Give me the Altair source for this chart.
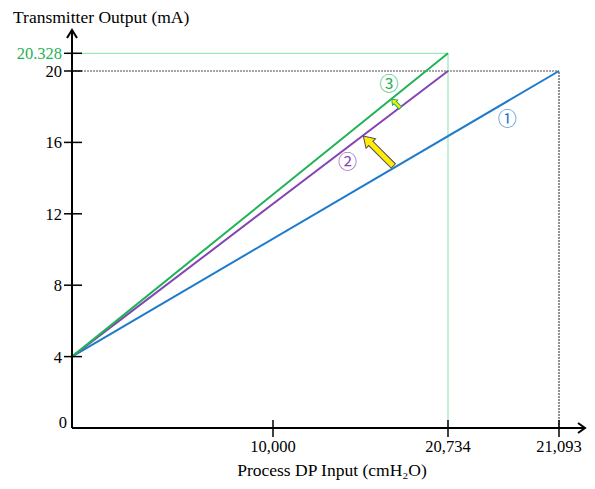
import altair as alt
import pandas as pd

# ---------------- data ----------------
series = ["①", "②", "③"]
x_start = [0, 0, 0]
y_start = [4, 4, 4]
x_end = [21093, 20734, 20734]
y_end = [20, 20, 20.328]
line_colors = ["#1f7bcb", "#8443b5", "#1fb257"]
text_colors = ["#3a8ad6", "#8e52bd", "#2bb562"]

x_ticks = [10000, 20734, 21093]
x_tick_labels = ["10,000", "20,734", "21,093"]
y_ticks = [4, 8, 12, 16, 20, 20.328]
y_tick_labels = ["4", "8", "12", "16", "20", "20.328"]
y_label_colors = ["black", "black", "black", "black", "black", "#1fb257"]
zero_label = ["0"]
x_max = 22200
y_max = 21

x_title = ["Process DP Input (cmH₂O)"]
y_title = ["Transmitter Output (mA)"]

label_x = [20926, 14570, 17115]
label_y = [17.25, 14.87, 19.19]

big_arrow_x = [16459]
big_arrow_y = [15.52]
small_arrow_x = [17545]
small_arrow_y = [18.18]

# schematic (piecewise) scales, as in the reference drawing
x_scale = alt.Scale(domain=[0, 10000, 20734, 21093, x_max],
                    range=[0, 201, 376, 487, 513], nice=False, zero=False)
y_scale = alt.Scale(domain=[0, 20, 20.328, y_max],
                    range=[398, 41, 23.3, 0], nice=False, zero=False)
color_scale = alt.Scale(domain=series, range=line_colors)
text_color_scale = alt.Scale(domain=series, range=text_colors)

FONT = "Liberation Serif"
FS = 16.5
FS_TITLE = 17.5


def X(field):
    return alt.X(field, scale=x_scale, axis=None)


def Y(field):
    return alt.Y(field, scale=y_scale, axis=None)


rows = []
for s, xs, ys, xe, ye in zip(series, x_start, y_start, x_end, y_end):
    rows.append({"series": s, "x": xs, "y": ys, "o": 0})
    rows.append({"series": s, "x": xe, "y": ye, "o": 1})
df_lines = pd.DataFrame(rows)

lines = alt.Chart(df_lines).mark_line(strokeWidth=2).encode(
    x=X("x:Q"), y=Y("y:Q"),
    color=alt.Color("series:N", scale=color_scale, legend=None),
    order="o:Q",
)

# guide lines
df_green = pd.DataFrame({
    "x": [0, x_end[2]], "x2": [x_end[2], x_end[2]],
    "y": [y_end[2], 0], "y2": [y_end[2], y_end[2]],
})
green_guides = alt.Chart(df_green).mark_rule(color="#86e3aa", strokeWidth=1).encode(
    x=X("x:Q"), x2="x2:Q", y=Y("y:Q"), y2="y2:Q",
)
df_grey = pd.DataFrame({"x": [0], "x2": [x_end[0]], "y": [y_end[0]]})
grey_guide = alt.Chart(df_grey).mark_rule(color="#8a8a8a", strokeWidth=1.5,
                                          strokeDash=[2, 1]).encode(
    x=X("x:Q"), x2="x2:Q", y=Y("y:Q"),
)
df_black = pd.DataFrame({"x": [x_end[0]], "y": [0], "y2": [y_end[0]]})
black_guide = alt.Chart(df_black).mark_rule(color="#222222", strokeWidth=1,
                                            strokeDash=[2, 1]).encode(
    x=X("x:Q"), y=Y("y:Q"), y2="y2:Q",
)

# axis lines
df_axes = pd.DataFrame({"x": [0, 0], "x2": [x_max, 0], "y": [0, 0], "y2": [0, y_max]})
axis_lines = alt.Chart(df_axes).mark_rule(color="black", strokeWidth=2).encode(
    x=X("x:Q"), x2="x2:Q", y=Y("y:Q"), y2="y2:Q",
)

# tick marks crossing the axes
ytick_layer = alt.Chart(pd.DataFrame({"v": y_ticks})).mark_rule(
    color="black", strokeWidth=1.5).encode(
    y=Y("v:Q"), x=alt.value(-8), x2=alt.value(10),
)
xtick_layer = alt.Chart(pd.DataFrame({"v": x_ticks})).mark_rule(
    color="black", strokeWidth=1.5).encode(
    x=X("v:Q"), y=alt.value(390), y2=alt.value(407),
)

# tick labels
df_ylab = pd.DataFrame({"v": y_ticks, "t": y_tick_labels, "c": y_label_colors, "x": 0})
ylabels = alt.Chart(df_ylab).mark_text(
    font=FONT, fontSize=FS, align="right", baseline="alphabetic", dx=-10, dy=6).encode(
    x=X("x:Q"), y=Y("v:Q"), text="t:N",
    color=alt.Color("c:N", scale=None, legend=None),
)
df_xlab = pd.DataFrame({"v": x_ticks, "t": x_tick_labels, "y": 0})
xlabels = alt.Chart(df_xlab).mark_text(
    font=FONT, fontSize=FS, align="center", baseline="alphabetic", dy=24,
    color="black").encode(
    x=X("v:Q"), y=Y("y:Q"), text="t:N",
)
zero_layer = alt.Chart(pd.DataFrame({"t": zero_label, "x": [0], "y": [0]})).mark_text(
    font=FONT, fontSize=FS, align="right", baseline="alphabetic", dx=-5, dy=0,
    color="black").encode(
    x=X("x:Q"), y=Y("y:Q"), text="t:N",
)

# axis titles
xt = alt.Chart(pd.DataFrame({"t": x_title})).mark_text(
    font=FONT, fontSize=FS_TITLE, align="center", baseline="alphabetic",
    color="black").encode(
    x=alt.value(260), y=alt.value(446), text="t:N",
)
yt = alt.Chart(pd.DataFrame({"t": y_title})).mark_text(
    font=FONT, fontSize=FS_TITLE, align="left", baseline="alphabetic",
    color="black").encode(
    x=alt.value(-59), y=alt.value(-7), text="t:N",
)

# axis arrow heads
up_arrow = alt.Chart(pd.DataFrame({"x": [0], "y": [y_max]})).mark_point(
    shape="M -0.625 1 L 0 0 L 0.625 1", size=256, filled=False,
    color="black", strokeWidth=2, opacity=1).encode(x=X("x:Q"), y=Y("y:Q"))
right_arrow = alt.Chart(pd.DataFrame({"x": [x_max], "y": [0]})).mark_point(
    shape="M -1 -0.71 L 0 0 L -1 0.71", size=196, filled=False,
    color="black", strokeWidth=2, opacity=1).encode(x=X("x:Q"), y=Y("y:Q"))

# circled labels
df_labels = pd.DataFrame({"series": series, "x": label_x, "y": label_y})
labels = alt.Chart(df_labels).mark_text(fontSize=19, font="Noto Sans CJK JP").encode(
    x=X("x:Q"), y=Y("y:Q"), text="series:N",
    color=alt.Color("series:N", scale=text_color_scale, legend=None),
)

# yellow arrows
ARROW = "M 0 -1 L 0.32 -0.5 L 0.14 -0.5 L 0.14 1 L -0.14 1 L -0.14 -0.5 L -0.32 -0.5 Z"
SMALL = "M 0 -1 L 0.6 -0.2 L 0.27 -0.2 L 0.27 1 L -0.27 1 L -0.27 -0.2 L -0.6 -0.2 Z"
big_arrow = alt.Chart(pd.DataFrame({"x": big_arrow_x, "y": big_arrow_y})).mark_point(
    shape=ARROW, size=1800, angle=315, filled=True, fill="#ffee00",
    stroke="#5a4868", strokeWidth=1, opacity=1, fillOpacity=1).encode(
    x=X("x:Q"), y=Y("y:Q"))
small_arrow = alt.Chart(pd.DataFrame({"x": small_arrow_x, "y": small_arrow_y})).mark_point(
    shape=SMALL, size=150, angle=315, filled=True, fill="#ffee00",
    stroke="#1fb257", strokeWidth=1, opacity=1, fillOpacity=1).encode(
    x=X("x:Q"), y=Y("y:Q"))

chart = alt.layer(
    green_guides, grey_guide, black_guide, lines, axis_lines, ytick_layer, xtick_layer,
    ylabels, xlabels, zero_layer, xt, yt, up_arrow, right_arrow, labels,
    big_arrow, small_arrow,
).properties(
    width=513, height=398,
    autosize=alt.AutoSizeParams(type="none"),
    padding={"left": 64, "top": 22, "right": 2, "bottom": 53},
).configure_view(stroke=None)

chart.save("out.html", embed_options={"renderer": "svg", "actions": False})
